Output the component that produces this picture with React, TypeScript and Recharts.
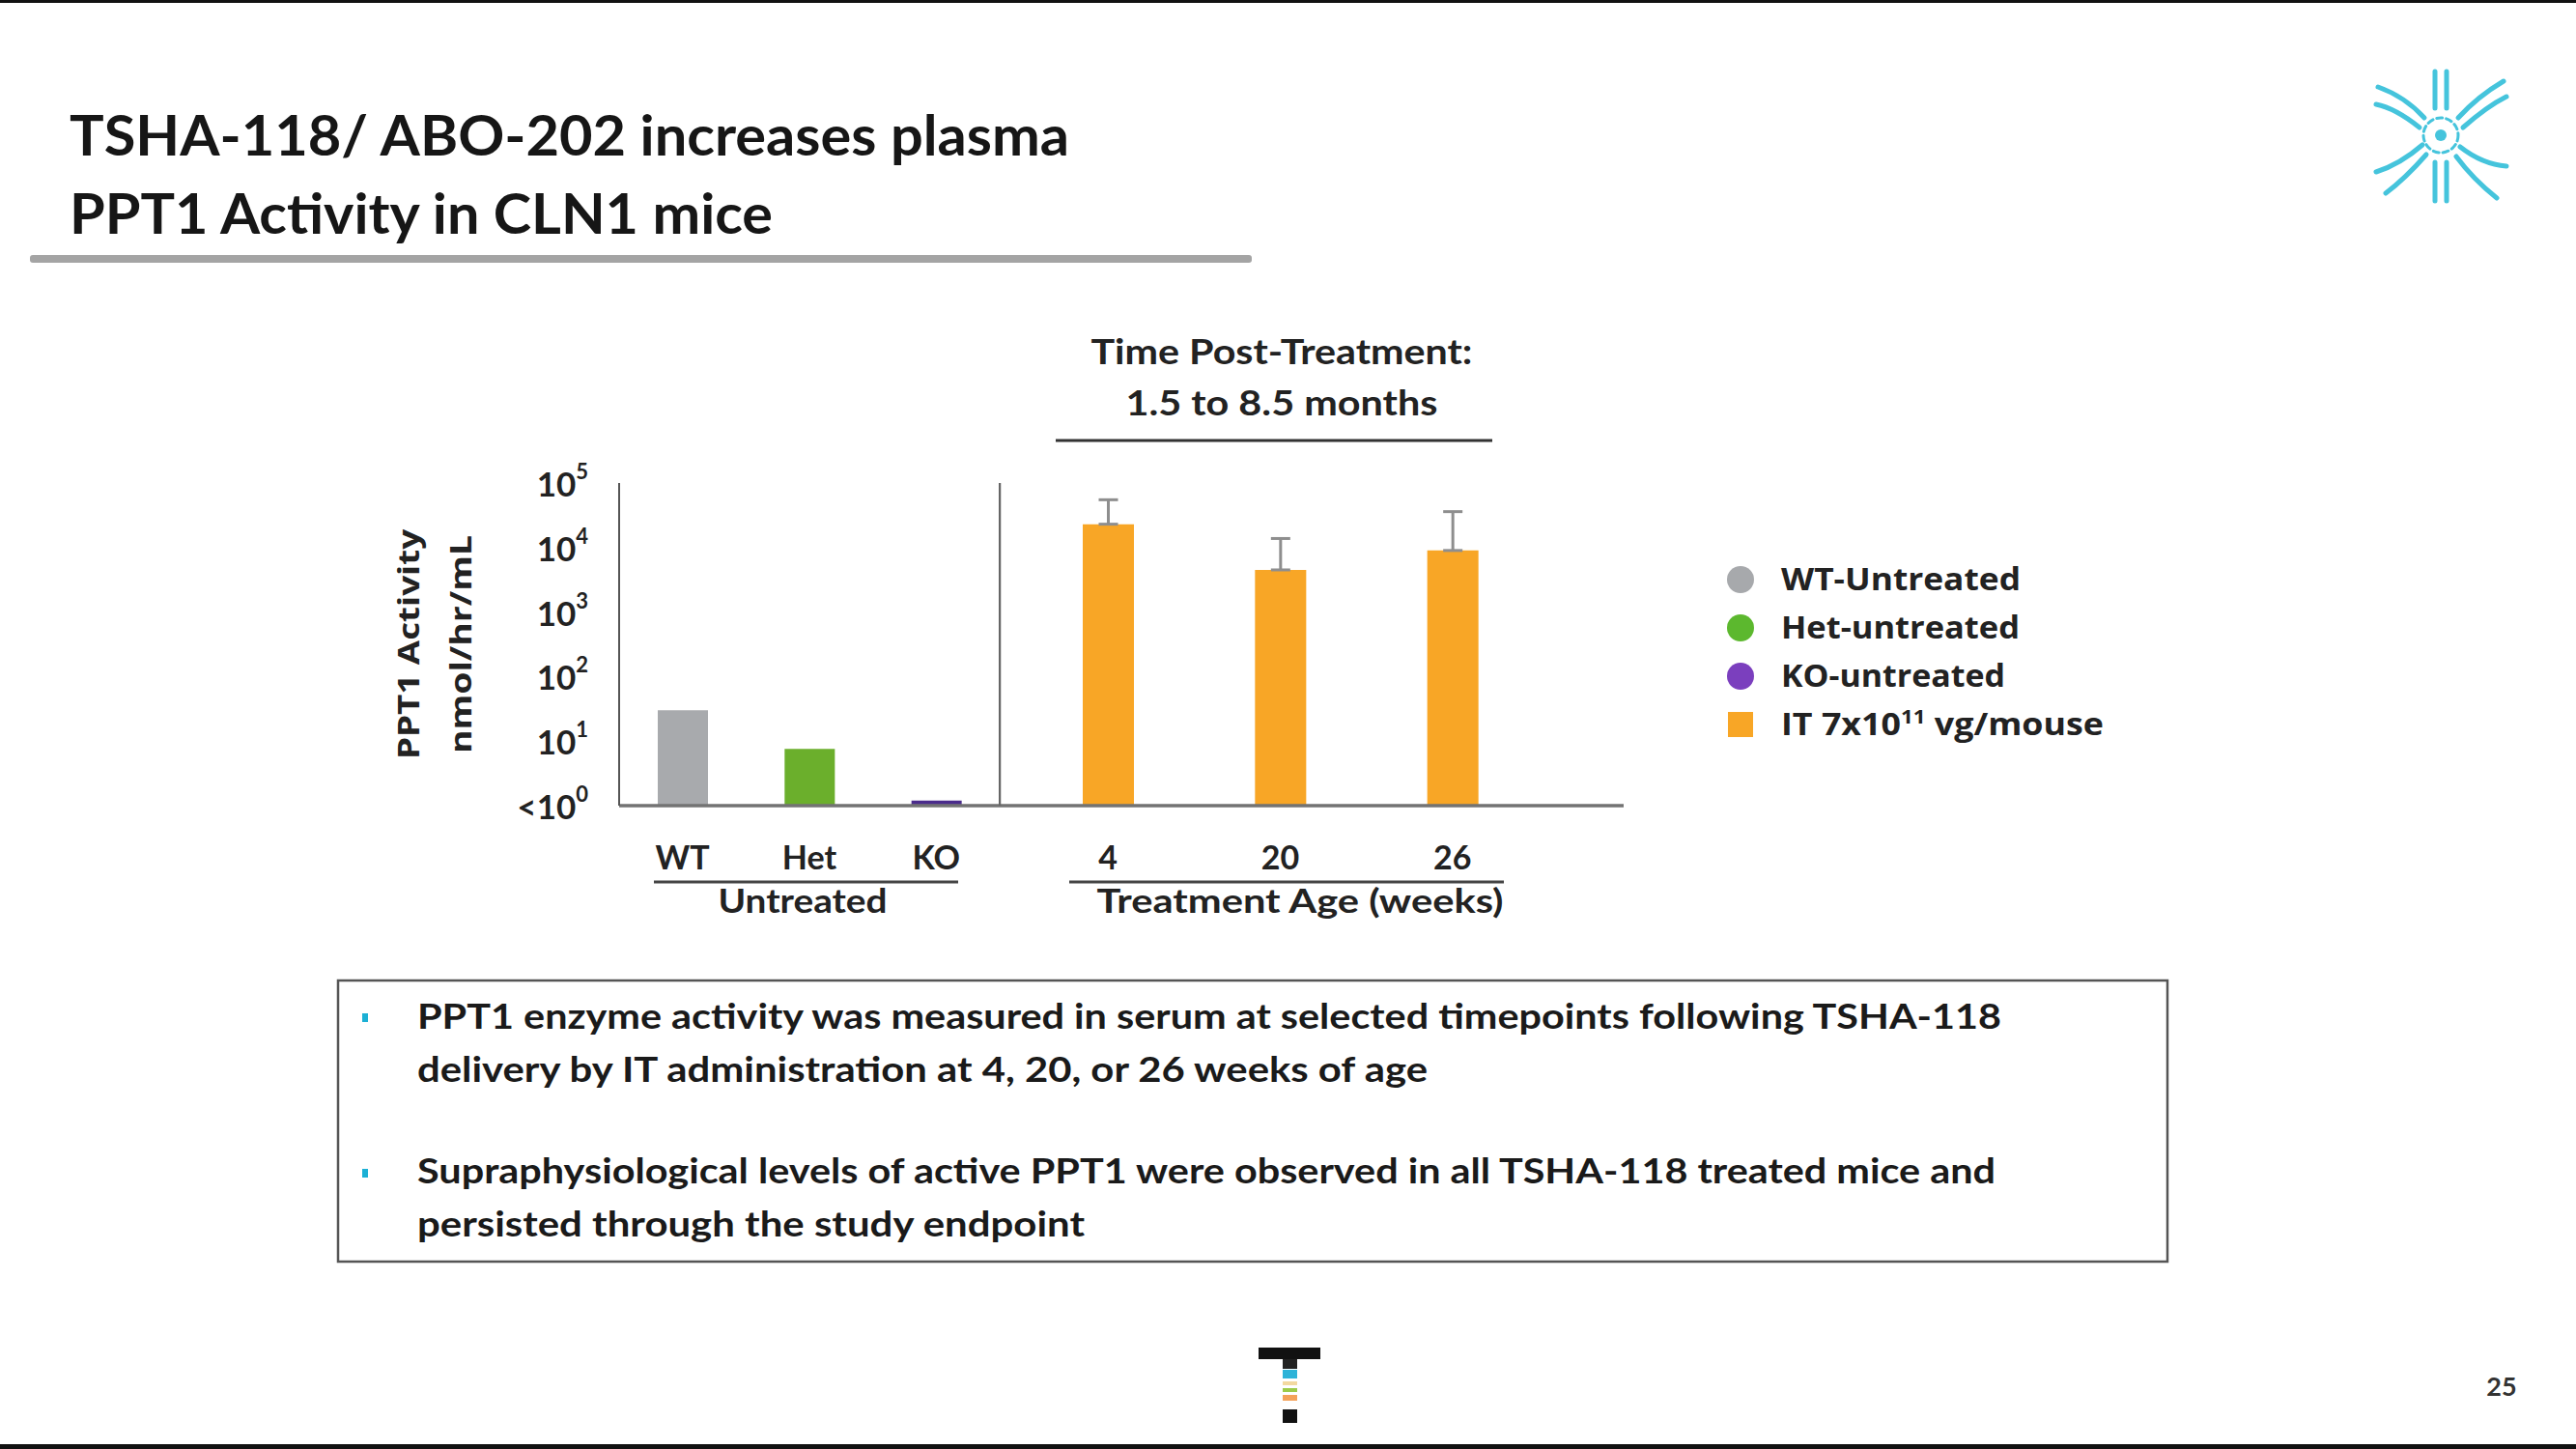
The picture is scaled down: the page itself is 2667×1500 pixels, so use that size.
import React from "react";
import { BarChart, Bar, Cell, XAxis, YAxis, ErrorBar } from "recharts";

// untreated controls
const UNTREATED_GROUPS = ["WT", "Het", "KO"];
const UNTREATED_VALUES = [30, 7.6, 1.2];
const UNTREATED_COLORS = ["#A8AAAD", "#6BAF2C", "#4B2C8C"];

// IT 7x10^11 vg/mouse, by treatment age (weeks)
const TREATMENT_AGES = ["4", "20", "26"];
const TREATED_VALUES = [23000, 4500, 9000];
const TREATED_ERR_UP = [32000, 9300, 27000];
const TREATED_COLOR = "#F8A626";

const Y_TICKS = [1, 10, 100, 1000, 10000, 100000];

const LEGEND_LABELS = ["WT-Untreated", "Het-untreated", "KO-untreated", "IT 7x10"];
const LEGEND_COLORS = ["#A7A9AC", "#5CB82E", "#7B3FBE", "#F8A626"];
const LEGEND_WIDTHS = [248, 247, 232, 334];

const BULLET_LINES = [
  "PPT1 enzyme activity was measured in serum at selected timepoints following TSHA-118",
  "delivery by IT administration at 4, 20, or 26 weeks of age",
  "Supraphysiological levels of active PPT1 were observed in all TSHA-118 treated mice and",
  "persisted through the study endpoint",
];

const untreatedData = UNTREATED_GROUPS.map((name, i) => ({
  name,
  value: UNTREATED_VALUES[i],
}));

const treatedData = TREATMENT_AGES.map((name, i) => ({
  name,
  value: TREATED_VALUES[i],
  err: [0, TREATED_ERR_UP[i]],
}));

const FONT = "Lato, 'Open Sans', sans-serif";

const YTick = (props: any) => {
  const { x, y, payload } = props;
  const exp = Math.round(Math.log10(payload.value));
  return (
    <text
      x={x}
      y={y}
      textAnchor="end"
      dominantBaseline="central"
      fontFamily={FONT}
      fontWeight={700}
      fontSize={35}
      fill="#222"
    >
      {payload.value <= 1 ? "<10" : "10"}
      <tspan dy={-13} fontSize={22}>
        {exp}
      </tspan>
    </text>
  );
};

const XTick = (props: any) => {
  const { x, y, payload } = props;
  return (
    <text
      x={x}
      y={y + 52}
      textAnchor="middle"
      dominantBaseline="central"
      fontFamily={FONT}
      fontWeight={700}
      fontSize={34}
      fill="#222"
    >
      {payload.value}
    </text>
  );
};

const Overlay = () => (
  <svg
    width={2667}
    height={1500}
    style={{ position: "absolute", left: 0, top: 0 }}
  >
    <rect x={0} y={0} width={2667} height={3} fill="#111" />
    <rect x={0} y={1495} width={2667} height={5} fill="#111" />

    {/* title */}
    <g fontFamily={FONT} fontWeight={700} fill="#161616">
      <text x={72} y={161} fontSize={58} textLength={1035} lengthAdjust="spacingAndGlyphs">
        TSHA-118/ ABO-202 increases plasma
      </text>
      <text x={72} y={242} fontSize={58} textLength={728} lengthAdjust="spacingAndGlyphs">
        PPT1 Activity in CLN1 mice
      </text>
    </g>
    <rect x={31} y={264} width={1265} height={8} rx={3} fill="#A4A4A4" />

    {/* header over treated group */}
    <g fontFamily={FONT} fontWeight={700} fill="#222" textAnchor="middle">
      <text x={1327} y={377} fontSize={37} textLength={395} lengthAdjust="spacingAndGlyphs">
        Time Post-Treatment:
      </text>
      <text x={1327} y={430} fontSize={37} textLength={323} lengthAdjust="spacingAndGlyphs">
        1.5 to 8.5 months
      </text>
    </g>
    <line x1={1093} x2={1545} y1={456} y2={456} stroke="#333" strokeWidth={3} />

    {/* y label */}
    <g fontFamily="'Open Sans', sans-serif" fontWeight={700} fill="#222" fontSize={31}>
      <text transform="translate(422,667) rotate(-90)" textAnchor="middle" dominantBaseline="central" textLength={238} lengthAdjust="spacingAndGlyphs">
        PPT1 Activity
      </text>
      <text transform="translate(476,667) rotate(-90)" textAnchor="middle" dominantBaseline="central" textLength={226} lengthAdjust="spacingAndGlyphs">
        nmol/hr/mL
      </text>
    </g>

    {/* group labels */}
    <line x1={677} x2={992} y1={913} y2={913} stroke="#444" strokeWidth={3} />
    <line x1={1107} x2={1557} y1={913} y2={913} stroke="#444" strokeWidth={3} />
    <g fontFamily={FONT} fontWeight={700} fill="#222" fontSize={34} textAnchor="middle">
      <text x={831} y={945} textLength={175} lengthAdjust="spacingAndGlyphs">Untreated</text>
      <text x={1346} y={945} textLength={421} lengthAdjust="spacingAndGlyphs">Treatment Age (weeks)</text>
    </g>

    {/* legend */}
    <g fontFamily="'Open Sans', sans-serif" fontWeight={700} fill="#222" fontSize={32}>
      {LEGEND_LABELS.map((label, i) => {
        const cy = 600 + i * 50;
        return (
          <g key={label}>
            {i < 3 ? (
              <circle cx={1802} cy={cy} r={14} fill={LEGEND_COLORS[i]} />
            ) : (
              <rect x={1789} y={cy - 13} width={26} height={26} fill={LEGEND_COLORS[i]} />
            )}
            <text
              x={1844}
              y={cy + 11}
              textLength={LEGEND_WIDTHS[i]}
              lengthAdjust="spacingAndGlyphs"
            >
              {label}
              {i === 3 && (
                <>
                  <tspan dy={-12} fontSize={20}>11</tspan>
                  <tspan dy={12}> vg/mouse</tspan>
                </>
              )}
            </text>
          </g>
        );
      })}
    </g>

    {/* text box */}
    <rect x={350} y={1015} width={1894} height={291} fill="none" stroke="#555" strokeWidth={2.5} />
    <rect x={375} y={1049} width={6} height={9} fill="#1CB0D5" />
    <rect x={375} y={1210} width={6} height={9} fill="#1CB0D5" />
    <g fontFamily={FONT} fontWeight={700} fill="#1a1a1a" fontSize={37}>
      <text x={432} y={1065} textLength={1640} lengthAdjust="spacingAndGlyphs">{BULLET_LINES[0]}</text>
      <text x={432} y={1120} textLength={1046} lengthAdjust="spacingAndGlyphs">{BULLET_LINES[1]}</text>
      <text x={432} y={1225} textLength={1634} lengthAdjust="spacingAndGlyphs">{BULLET_LINES[2]}</text>
      <text x={432} y={1280} textLength={691} lengthAdjust="spacingAndGlyphs">{BULLET_LINES[3]}</text>
    </g>

    {/* neuron logo */}
    <g stroke="#45C4DC" strokeWidth={5} fill="none" strokeLinecap="round">
      <path d="M2521 74 L2521 112 M2533 74 L2533 112" />
      <path d="M2521 168 L2521 208 M2533 168 L2533 208" />
      <path d="M2510 122 Q2490 100 2462 90 M2505 132 Q2480 112 2460 108" />
      <path d="M2545 122 Q2565 100 2592 84 M2550 132 Q2575 110 2595 100" />
      <path d="M2508 150 Q2485 170 2460 178 M2512 160 Q2490 185 2470 200" />
      <path d="M2547 152 Q2570 170 2595 172 M2543 162 Q2560 185 2585 205" />
      <circle cx={2527} cy={140} r={18} strokeDasharray="6 4" strokeWidth={3} />
    </g>
    <circle cx={2527} cy={140} r={6} fill="#45C4DC" />

    {/* bottom T logo */}
    <rect x={1303} y={1395} width={64} height={12} fill="#111" />
    <rect x={1328} y={1407} width={15} height={10} fill="#222" />
    <rect x={1328} y={1418} width={15} height={9} fill="#2EB3D8" />
    <rect x={1328} y={1430} width={15} height={4} fill="#F3D9A0" />
    <rect x={1328} y={1437} width={15} height={4} fill="#9CCB4A" />
    <rect x={1328} y={1444} width={15} height={6} fill="#F4A25A" />
    <rect x={1328} y={1459} width={15} height={14} fill="#111" />

    <text x={2590} y={1445} textAnchor="middle" fontFamily={FONT} fontWeight={700} fontSize={27} fill="#333">
      25
    </text>
  </svg>
);

export default function App() {
  return (
    <div
      style={{
        position: "absolute",
        left: 0,
        top: 0,
        width: 2667,
        height: 1500,
        background: "#fff",
        overflow: "hidden",
      }}
    >
      <Overlay />
      <div style={{ position: "absolute", left: 501, top: 470 }}>
        <BarChart
          width={534}
          height={484}
          data={untreatedData}
          margin={{ top: 30, right: 0, left: 0, bottom: 0 }}
          barSize={52}
        >
          <XAxis
            dataKey="name"
            height={120}
            tickSize={0}
            tickMargin={0}
            tickLine={false}
            interval={0}
            tick={<XTick />}
            axisLine={{ stroke: "#737373", strokeWidth: 3.5 }}
          />
          <YAxis
            scale="log"
            domain={[1, 100000]}
            ticks={Y_TICKS}
            interval={0}
            allowDataOverflow
            width={140}
            tickSize={0}
            tickMargin={32}
            tickLine={false}
            tick={<YTick />}
            axisLine={{ stroke: "#555", strokeWidth: 2 }}
          />
          <Bar dataKey="value" isAnimationActive={false}>
            {untreatedData.map((d, i) => (
              <Cell key={d.name} fill={UNTREATED_COLORS[i]} />
            ))}
          </Bar>
        </BarChart>
      </div>
      <div style={{ position: "absolute", left: 1034, top: 470 }}>
        <BarChart
          width={647}
          height={484}
          data={treatedData}
          margin={{ top: 30, right: 0, left: 0, bottom: 0 }}
          barSize={53}
        >
          <XAxis
            dataKey="name"
            height={120}
            tickSize={0}
            tickMargin={0}
            tickLine={false}
            interval={0}
            padding={{ left: 23, right: 88 }}
            tick={<XTick />}
            axisLine={{ stroke: "#737373", strokeWidth: 3.5 }}
          />
          <YAxis
            scale="log"
            domain={[1, 100000]}
            ticks={Y_TICKS}
            allowDataOverflow
            width={1}
            tick={false}
            tickLine={false}
            axisLine={{ stroke: "#666", strokeWidth: 2.5 }}
          />
          <Bar dataKey="value" fill={TREATED_COLOR} isAnimationActive={false}>
            <ErrorBar
              dataKey="err"
              direction="y"
              width={10}
              stroke="#8E8E8E"
              strokeWidth={3}
            />
          </Bar>
        </BarChart>
      </div>
    </div>
  );
}
